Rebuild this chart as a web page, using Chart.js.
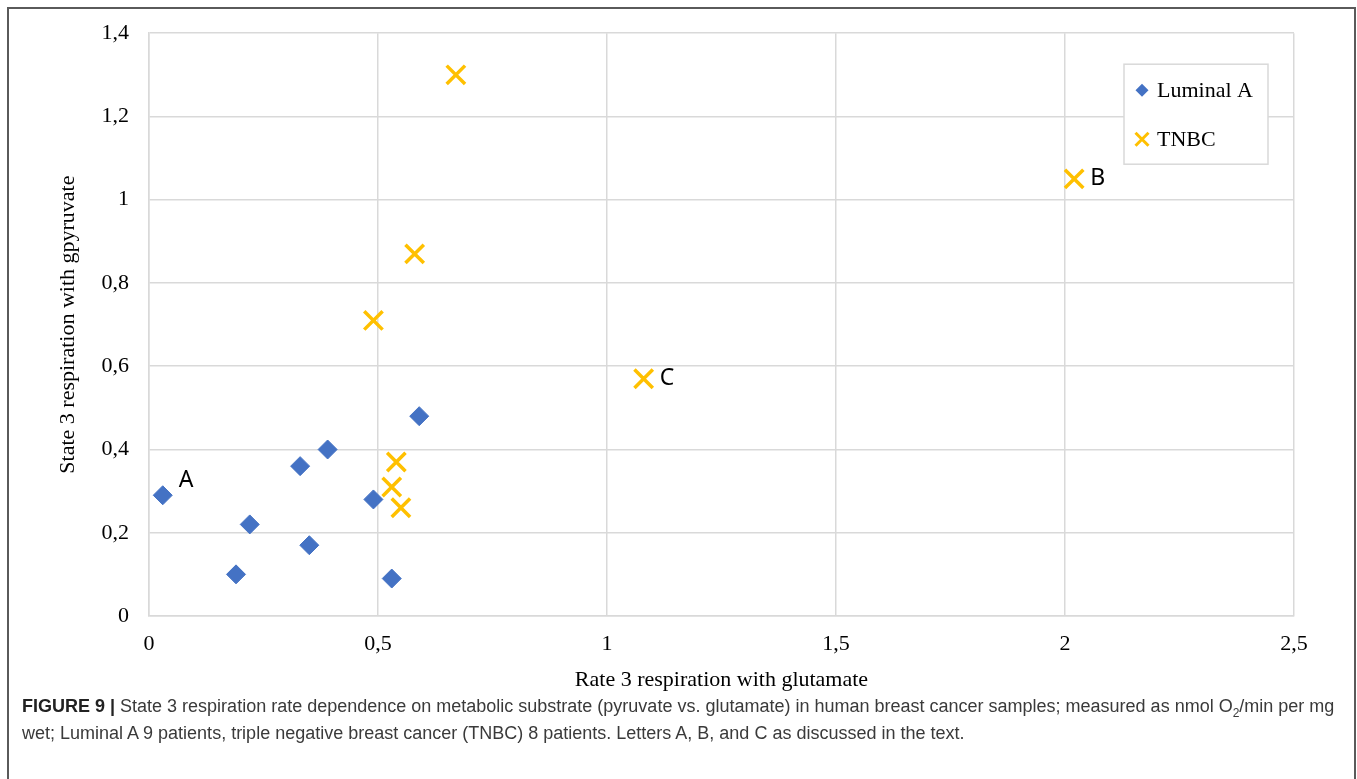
<!DOCTYPE html>
<html>
<head>
<meta charset="utf-8">
<script src="https://cdn.jsdelivr.net/npm/chart.js@4.4.1/dist/chart.umd.min.js"></script>
<style>
  html, body { margin: 0; padding: 0; background: #fff; }
  body { width: 1357px; height: 779px; position: relative; overflow: hidden; }
  .frame { position: absolute; left: 7px; top: 7px; width: 1349px; height: 820px; box-sizing: border-box; border: 2px solid #5a5a5a; }
  #chart { position: absolute; left: 0; top: 0; }
  .caption { position: absolute; left: 22px; top: 693px; font-family: "Liberation Sans", Arial, sans-serif; font-size: 18px; line-height: 27px; color: #3a3a3a; white-space: nowrap; }
  .caption b { color: #222; }
  .caption sub { font-size: 12px; line-height: 0; }
</style>
</head>
<body>
<div class="frame"></div>
<canvas id="chart" width="1357" height="700"></canvas>
<div class="caption"><b>FIGURE 9 |</b> State 3 respiration rate dependence on metabolic substrate (pyruvate vs. glutamate) in human breast cancer samples; measured as nmol O<sub>2</sub>/min per mg<br>wet; Luminal A 9 patients, triple negative breast cancer (TNBC) 8 patients. Letters A, B, and C as discussed in the text.</div>
<script>
// Luminal A (glutamate, pyruvate)
const lumX = [0.03, 0.19, 0.22, 0.33, 0.35, 0.39, 0.49, 0.53, 0.59];
const lumY = [0.29, 0.10, 0.22, 0.36, 0.17, 0.40, 0.28, 0.09, 0.48];
// TNBC
const tnbcX = [0.67, 0.58, 0.49, 1.08, 2.02, 0.54, 0.53, 0.55];
const tnbcY = [1.30, 0.87, 0.71, 0.57, 1.05, 0.37, 0.31, 0.26];

// letters next to some points: [dataset, index, text]
const pointNotes = [[0, 0, 'A'], [1, 4, 'B'], [1, 3, 'C']];

const blue = '#4472C4';
const gold = '#FFC000';
const grid = '#d9d9d9';
const serif = '"Liberation Serif", "Times New Roman", serif';

const toXY = (xs, ys) => xs.map((x, i) => ({ x: x, y: ys[i] }));
const comma = v => String(Number(v.toFixed(1))).replace('.', ',');

const extras = {
    id: 'extras',
    afterDatasetsDraw(chart) {
        const ctx = chart.ctx;
        const area = chart.chartArea;
        ctx.save();

        // A, B, C letters
        ctx.font = '23px "Noto Sans", "Open Sans", sans-serif';
        ctx.fillStyle = '#000';
        ctx.textAlign = 'left';
        ctx.textBaseline = 'middle';
        pointNotes.forEach(([ds, idx, txt]) => {
            const el = chart.getDatasetMeta(ds).data[idx];
            const dy = txt === 'A' ? -15 : 0;
            ctx.fillText(txt, el.x + 16, el.y + dy);
        });

        // legend box
        const lx = area.right - 170, ly = area.top + 31, lw = 144, lh = 100;
        ctx.fillStyle = '#fff';
        ctx.fillRect(lx, ly, lw, lh);
        ctx.strokeStyle = grid;
        ctx.lineWidth = 1.5;
        ctx.strokeRect(lx, ly, lw, lh);

        const mx = lx + 18;
        // diamond
        ctx.fillStyle = blue;
        ctx.beginPath();
        ctx.moveTo(mx - 6.5, ly + 26);
        ctx.lineTo(mx, ly + 19.5);
        ctx.lineTo(mx + 6.5, ly + 26);
        ctx.lineTo(mx, ly + 32.5);
        ctx.closePath();
        ctx.fill();
        // cross
        ctx.strokeStyle = gold;
        ctx.lineWidth = 3;
        ctx.beginPath();
        ctx.moveTo(mx - 6.5, ly + 68.5); ctx.lineTo(mx + 6.5, ly + 81.5);
        ctx.moveTo(mx + 6.5, ly + 68.5); ctx.lineTo(mx - 6.5, ly + 81.5);
        ctx.stroke();

        ctx.font = '22px ' + serif;
        ctx.fillStyle = '#000';
        ctx.fillText(chart.data.datasets[0].label, mx + 15, ly + 27);
        ctx.fillText(chart.data.datasets[1].label, mx + 15, ly + 76);
        ctx.restore();
    }
};

new Chart(document.getElementById('chart'), {
    type: 'scatter',
    data: {
        datasets: [
            {
                label: 'Luminal A',
                data: toXY(lumX, lumY),
                pointStyle: 'rectRot',
                pointRadius: 9.5,
                pointBackgroundColor: blue,
                pointBorderColor: blue,
                pointBorderWidth: 1
            },
            {
                label: 'TNBC',
                data: toXY(tnbcX, tnbcY),
                pointStyle: 'crossRot',
                pointRadius: 13,
                pointBorderColor: gold,
                pointBorderWidth: 3.5
            }
        ]
    },
    options: {
        responsive: false,
        animation: false,
        devicePixelRatio: 1,
        layout: { padding: { top: 33, right: 63, left: 0, bottom: 0 } },
        plugins: {
            legend: { display: false },
            tooltip: { enabled: false }
        },
        scales: {
            x: {
                type: 'linear',
                min: 0,
                max: 2.5,
                ticks: { stepSize: 0.5, padding: 15, color: '#000', font: { family: serif, size: 22 }, callback: comma },
                grid: { color: grid, lineWidth: 1.5, drawTicks: false },
                border: { color: grid, width: 1.5 },
                title: { display: true, text: 'Rate 3 respiration with glutamate', color: '#000', font: { family: serif, size: 22 }, padding: { top: 0, bottom: 7 } },
                afterFit(scale) { scale.height = 84; }
            },
            y: {
                type: 'linear',
                min: 0,
                max: 1.4,
                ticks: { stepSize: 0.2, padding: 20, color: '#000', font: { family: serif, size: 22 }, callback: comma },
                grid: { color: grid, lineWidth: 1.5, drawTicks: false },
                border: { color: grid, width: 1.5 },
                title: { display: true, text: 'State 3 respiration with gpyruvate', color: '#000', font: { family: serif, size: 22 }, padding: { top: 55, bottom: 0 } },
                afterFit(scale) { scale.width = 149; }
            }
        }
    },
    plugins: [extras]
});
</script>
</body>
</html>
